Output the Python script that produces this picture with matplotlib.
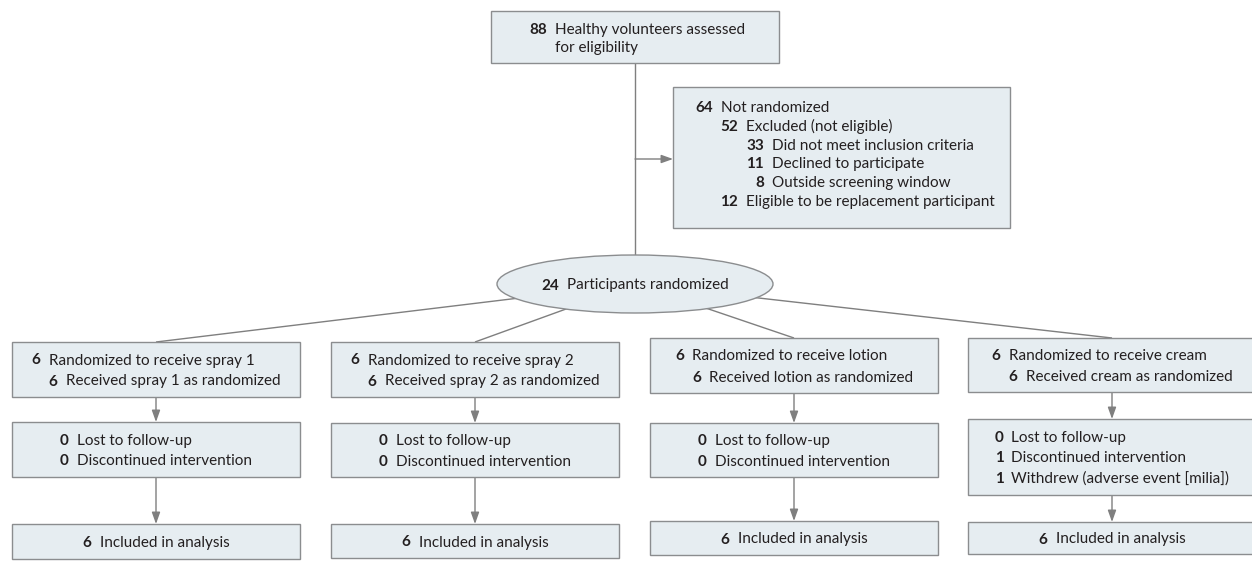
import matplotlib
matplotlib.use("Agg")
import matplotlib.pyplot as plt
from matplotlib.patches import Rectangle, Ellipse

plt.rcParams['font.family'] = ['Lato', 'DejaVu Sans']

# ---------------- data ----------------
assessed_n = 88
assessed_label = ["Healthy volunteers assessed", "for eligibility"]

excl_n = [64, 52, 33, 11, 8, 12]
excl_labels = ["Not randomized", "Excluded (not eligible)",
               "Did not meet inclusion criteria", "Declined to participate",
               "Outside screening window", "Eligible to be replacement participant"]
excl_levels = [0, 1, 2, 2, 2, 1]

randomized_n = 24
randomized_label = "Participants randomized"

arms = ["spray 1", "spray 2", "lotion", "cream"]
allocated_n = [6, 6, 6, 6]
received_n = [6, 6, 6, 6]
lost_n = [0, 0, 0, 0]
discontinued_n = [0, 0, 0, 1]
withdrew_n = [None, None, None, 1]
withdrew_label = "Withdrew (adverse event [milia])"
analyzed_n = [6, 6, 6, 6]

# ---------------- style / layout ----------------
W, H = 1252, 565
FILL = '#e6edf1'
EDGE = '#8b8d8f'
LINE = '#7f7f7f'
TXT = '#231f20'
FS = 11
GAP = 8

fig = plt.figure(figsize=(W / 100, H / 100), dpi=100)
ax = fig.add_axes([0, 0, 1, 1])
ax.set_xlim(0, W)
ax.set_ylim(H, 0)
ax.axis('off')
renderer = fig.canvas.get_renderer()


def measure(s, bold=False):
    t = ax.text(0, 0, s, fontsize=FS, fontweight='bold' if bold else 'normal')
    w = t.get_window_extent(renderer).width
    t.remove()
    return w


def box(x0, y0, x1, y1):
    ax.add_patch(Rectangle((x0, y0), x1 - x0, y1 - y0, facecolor=FILL,
                           edgecolor=EDGE, lw=1.0, zorder=2))


def entry(x, yb, num, label, numw):
    ax.text(x + numw, yb, str(num), ha='right', va='baseline', fontsize=FS,
            fontweight='bold', color=TXT, zorder=3)
    ax.text(x + numw + GAP, yb, label, ha='left', va='baseline', fontsize=FS,
            color=TXT, zorder=3)


def block(lines, cx, cy, spacing, numw):
    ind = numw + GAP
    widths = [lv * ind + numw + GAP + measure(lab) for (_, lab, lv) in lines]
    bw = max(widths)
    x = cx - bw / 2
    n = len(lines)
    for i, (num, lab, lv) in enumerate(lines):
        yb = cy + 5.5 + (i - (n - 1) / 2) * spacing
        entry(x + lv * ind, yb, num, lab, numw)


def arrow(x0, y0, x1, y1):
    ax.annotate('', xy=(x1, y1), xytext=(x0, y0),
                arrowprops=dict(arrowstyle='-|>,head_length=0.7,head_width=0.25',
                                color=LINE, lw=1.0, shrinkA=0, shrinkB=0),
                zorder=1)


def line(x0, y0, x1, y1):
    ax.plot([x0, x1], [y0, y1], color=LINE, lw=1.0, zorder=1,
            solid_capstyle='butt')


# top box (centered on the main vertical line)
main_x = 635
box(main_x - 144, 11, main_x + 144, 63)
w88 = measure(str(assessed_n), True)
tw = max(measure(s) for s in assessed_label) + w88 + GAP
tx = main_x + 2 - tw / 2
entry(tx, 34, assessed_n, assessed_label[0], w88)
entry(tx, 52, '', assessed_label[1], w88)

# exclusion box
box(673, 87, 1010, 228)
wex = measure("64", True)
for i, (n, lab, lv) in enumerate(zip(excl_n, excl_labels, excl_levels)):
    entry(695 + lv * (wex + GAP), 111.7 + i * 18.9, n, lab, wex)

line(main_x, 63, main_x, 256)
arrow(main_x, 159, 673, 159)

# ellipse
ecx, ecy = main_x, 284
ax.add_patch(Ellipse((ecx, ecy), 276, 58, facecolor=FILL, edgecolor=EDGE,
                     lw=1.0, zorder=2))
w24 = measure(str(randomized_n), True)
bw = w24 + GAP + measure(randomized_label)
entry(ecx - bw / 2, ecy + 5.5, randomized_n, randomized_label, w24)

# arms
col_x0 = [12, 331, 650, 968]
col_w = 288
row1 = [(342, 397), (342, 397), (338, 393), (338, 392)]
row2 = [(422, 477), (423, 477), (423, 477), (419, 495)]
row3 = [(524, 559), (524, 558), (521, 555), (522, 554)]

for k, arm in enumerate(arms):
    x0 = col_x0[k]
    x1 = x0 + col_w
    cx = (x0 + x1) / 2
    line(ecx, ecy, cx, row1[k][0])

    box(x0, row1[k][0], x1, row1[k][1])
    wn = measure("6", True)
    block([(allocated_n[k], "Randomized to receive " + arm, 0),
           (received_n[k], "Received " + arm + " as randomized", 1)],
          cx, (row1[k][0] + row1[k][1]) / 2, 21, wn)

    arrow(cx, row1[k][1], cx, row2[k][0])
    box(x0, row2[k][0], x1, row2[k][1])
    lines = [(lost_n[k], "Lost to follow-up", 0),
             (discontinued_n[k], "Discontinued intervention", 0)]
    if withdrew_n[k] is not None:
        lines.append((withdrew_n[k], withdrew_label, 0))
    block(lines, cx, (row2[k][0] + row2[k][1]) / 2, 20.5, wn)

    arrow(cx, row2[k][1], cx, row3[k][0])
    box(x0, row3[k][0], x1, row3[k][1])
    block([(analyzed_n[k], "Included in analysis", 0)],
          cx, (row3[k][0] + row3[k][1]) / 2, 20, wn)

fig.savefig("out.png", dpi=100)
